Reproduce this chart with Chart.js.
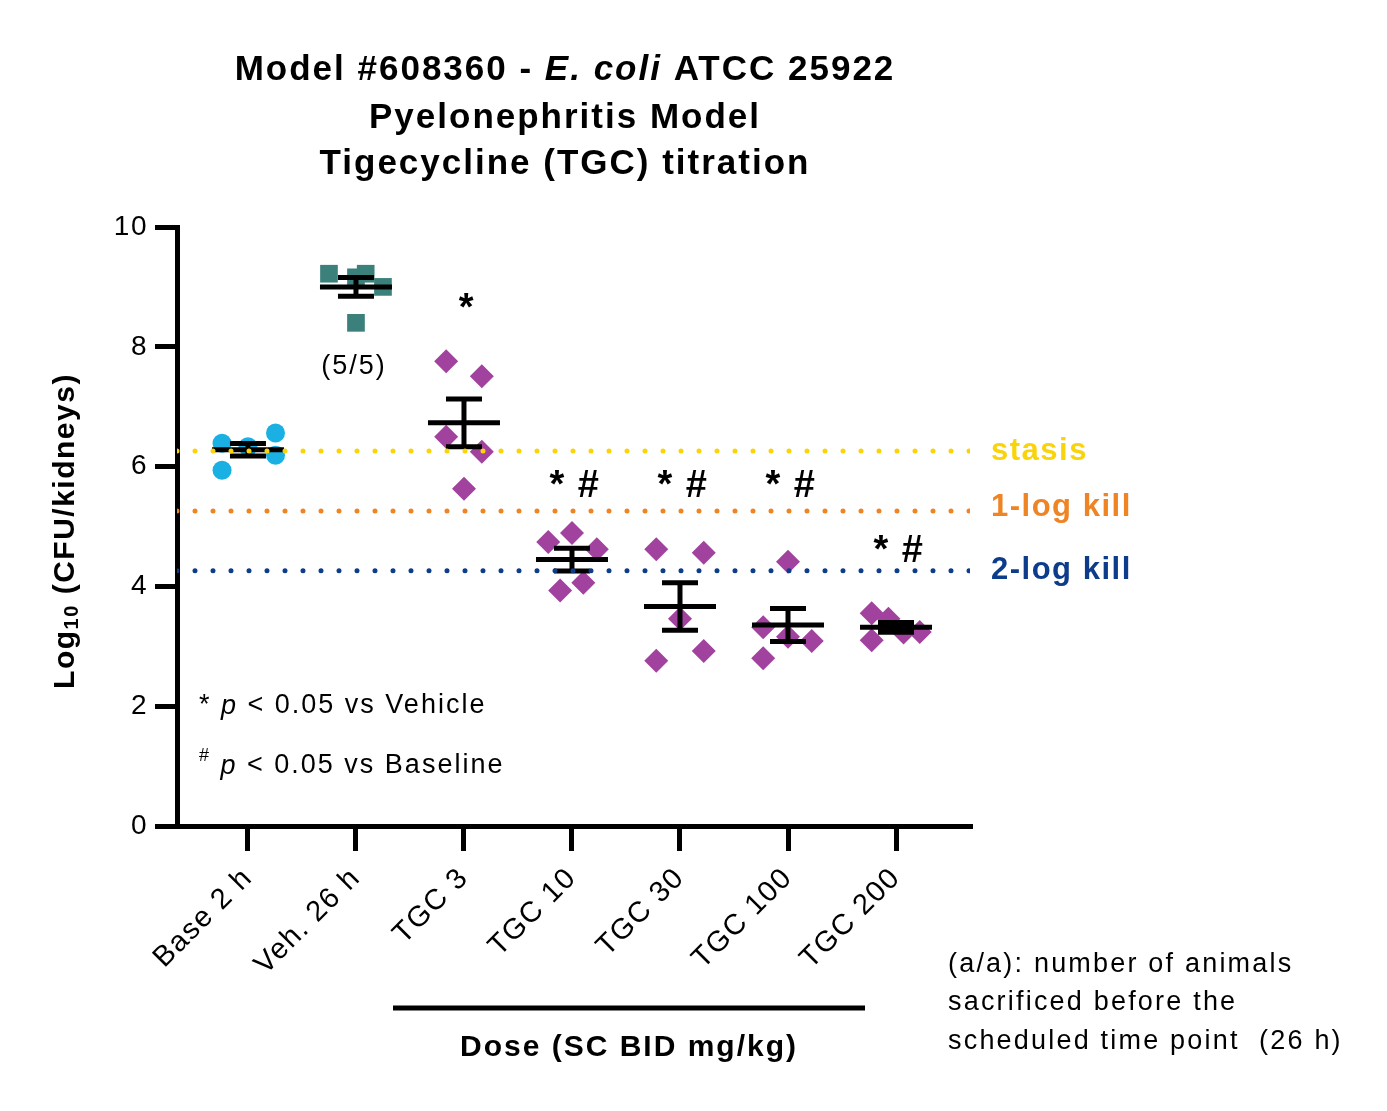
<!DOCTYPE html>
<html>
<head>
<meta charset="utf-8">
<script src="https://cdn.jsdelivr.net/npm/chart.js"></script>
<style>
  html, body { margin: 0; padding: 0; background: #fff; }
  #wrap { width: 1387px; height: 1111px; position: relative; }
</style>
</head>
<body>
<div id="wrap"><canvas id="myChart"></canvas></div>
<script>
// groups on the x axis
const groups = ['Base 2 h', 'Veh. 26 h', 'TGC 3', 'TGC 10', 'TGC 30', 'TGC 100', 'TGC 200'];

// log10 CFU/kidneys per animal
const base2h = [6.39, 5.94, 6.33, 6.56, 6.19];
const veh26h = [9.22, 9.22, 9.16, 9.00, 8.40];
const tgc3   = [7.76, 7.51, 6.50, 6.25, 5.63];
const tgc10  = [4.74, 4.89, 4.62, 3.93, 4.06];
const tgc30  = [4.62, 4.56, 3.46, 2.76, 2.92];
const tgc100 = [4.41, 3.32, 3.16, 3.09, 2.80];
const tgc200 = [3.55, 3.46, 3.10, 3.23, 3.24];

// horizontal scatter of the dots inside a group (in category units)
const jitBase = [-0.24, -0.24, 0, 0.255, 0.255];
const jitVeh  = [-0.25, 0.09, 0, 0.25, 0];
const jit3    = [-0.165, 0.165, -0.165, 0.165, 0];
const jit10   = [-0.22, 0, 0.23, -0.11, 0.105];
const jit30   = [-0.22, 0.22, 0, -0.22, 0.22];
const jit100  = [0, -0.23, 0, 0.22, -0.23];
const jit200  = [-0.225, -0.07, -0.225, 0.07, 0.22];

// reference levels
const refLevels = [6.26, 5.26, 4.26];
const refLabels = ['stasis', '1-log kill', '2-log kill'];

// significance marks above each group
const sigMarks = ['', '', '*', '* #', '* #', '* #', '* #'];

const yTicks = [0, 2, 4, 6, 8, 10];

const values = [base2h, veh26h, tgc3, tgc10, tgc30, tgc100, tgc200];
const jitters = [jitBase, jitVeh, jit3, jit10, jit30, jit100, jit200];

const CYAN = '#1AB0E4', TEAL = '#3C807C', PURPLE = '#A1439E';
const REF_COLORS = ['#FAD40A', '#EE8424', '#0C3C8A'];
const FONT = '"Liberation Sans", Arial, sans-serif';
const X_MIN = -0.657, X_MAX = 6.685;

function mean(a) { return a.reduce((s, v) => s + v, 0) / a.length; }
function sem(a) {
    const m = mean(a);
    const sd = Math.sqrt(a.reduce((s, v) => s + (v - m) * (v - m), 0) / (a.length - 1));
    return sd / Math.sqrt(a.length);
}

// draw a run of text pieces with different fonts
function drawRuns(ctx, runs, x, y, align) {
    let total = 0;
    runs.forEach(r => { ctx.font = r.font; r.w = ctx.measureText(r.t).width; total += r.w; });
    let cx = align === 'center' ? x - total / 2 : x;
    runs.forEach(r => {
        ctx.font = r.font;
        ctx.fillText(r.t, cx, y + (r.dy || 0));
        cx += r.w;
    });
}

const pointDatasets = values.map((vals, i) => ({
    type: 'scatter',
    data: vals.map((v, k) => ({ x: i + jitters[i][k], y: v })),
    backgroundColor: i === 0 ? CYAN : (i === 1 ? TEAL : PURPLE),
    borderWidth: 0,
    pointStyle: i === 0 ? 'circle' : (i === 1 ? 'rect' : 'rectRot'),
    pointRadius: i === 0 ? 9.5 : (i === 1 ? 12.5 : 12),
    pointHoverRadius: i === 0 ? 9.5 : 12,
    order: 2
}));

const refDatasets = refLevels.map((lv, i) => ({
    type: 'line',
    data: [{ x: X_MIN, y: lv }, { x: X_MAX, y: lv }],
    borderColor: REF_COLORS[i],
    borderWidth: 5,
    borderDash: [0, 18],
    borderCapStyle: 'round',
    pointRadius: 0,
    fill: false,
    order: 1
}));

// error bars (mean +/- SEM) drawn right after the dot layers, under the dotted lines
const errorBars = {
    id: 'errorBars',
    afterDatasetDraw(chart, args) {
        if (args.index !== 0) return;
        const { ctx, scales: { x, y } } = chart;
        ctx.save();
        ctx.strokeStyle = '#000';
        ctx.lineWidth = 5;
        ctx.lineCap = 'butt';
        values.forEach((vals, i) => {
            const m = mean(vals), s = sem(vals);
            const px = x.getPixelForValue(i);
            const pm = y.getPixelForValue(m), pt = y.getPixelForValue(m + s), pb = y.getPixelForValue(m - s);
            ctx.beginPath();
            ctx.moveTo(px - 36, pm); ctx.lineTo(px + 36, pm);
            ctx.moveTo(px, pt); ctx.lineTo(px, pb);
            ctx.moveTo(px - 18, pt); ctx.lineTo(px + 18, pt);
            ctx.moveTo(px - 18, pb); ctx.lineTo(px + 18, pb);
            ctx.stroke();
        });
        ctx.restore();
    }
};

// titles, notes and labels
const annotations = {
    id: 'annotations',
    beforeDraw(chart) { chart.ctx.letterSpacing = '1.5px'; },
    afterDraw(chart) {
        const { ctx, scales: { x, y } } = chart;
        ctx.save();
        ctx.fillStyle = '#000';
        ctx.textBaseline = 'middle';
        ctx.textAlign = 'left';

        // title
        ctx.letterSpacing = '2px';
        const tb = 'bold 35px ' + FONT, ti = 'italic bold 35px ' + FONT;
        drawRuns(ctx, [{ t: 'Model #608360 - ', font: tb }, { t: 'E. coli', font: ti }, { t: ' ATCC 25922', font: tb }], 565, 70, 'center');
        drawRuns(ctx, [{ t: 'Pyelonephritis Model', font: tb }], 565, 118, 'center');
        drawRuns(ctx, [{ t: 'Tigecycline (TGC) titration', font: tb }], 565, 164, 'center');

        // y axis title
        ctx.save();
        ctx.letterSpacing = '1.5px';
        ctx.translate(66, 531);
        ctx.rotate(-Math.PI / 2);
        drawRuns(ctx, [
            { t: 'Log', font: 'bold 30px ' + FONT },
            { t: '10', font: 'bold 20px ' + FONT, dy: 6 },
            { t: ' (CFU/kidneys)', font: 'bold 30px ' + FONT }
        ], 0, 0, 'center');
        ctx.restore();

        // significance legend
        ctx.letterSpacing = '2px';
        const rf = '27px ' + FONT, itf = 'italic 27px ' + FONT;
        drawRuns(ctx, [{ t: '* ', font: rf }, { t: 'p', font: itf }, { t: ' < 0.05 vs Vehicle', font: rf }], 199, 706, 'left');
        drawRuns(ctx, [{ t: '#', font: '18px ' + FONT, dy: -10 }, { t: ' ', font: rf }, { t: 'p', font: itf }, { t: ' < 0.05 vs Baseline', font: rf }], 199, 766, 'left');

        // animals sacrificed
        ctx.font = '27px ' + FONT;
        ctx.textAlign = 'center';
        ctx.fillText('(5/5)', 354, 367);
        ctx.textAlign = 'left';
        ctx.letterSpacing = '2.2px';
        ctx.fillText('(a/a): number of animals', 948, 965);
        ctx.fillText('sacrificed before the', 948, 1003);
        ctx.fillText('scheduled time point  (26 h)', 948, 1042);

        // dose bracket
        ctx.fillRect(x.getPixelForValue(1.343), 1005.5, x.getPixelForValue(5.713) - x.getPixelForValue(1.343), 5);
        ctx.letterSpacing = '2px';
        ctx.font = 'bold 30px ' + FONT;
        ctx.textAlign = 'center';
        ctx.fillText('Dose (SC BID mg/kg)', 629, 1048);

        // reference labels
        ctx.textAlign = 'left';
        ctx.letterSpacing = '1.5px';
        refLabels.forEach((lab, i) => {
            ctx.fillStyle = REF_COLORS[i];
            ctx.font = 'bold 31px ' + FONT;
            ctx.fillText(lab, 991, y.getPixelForValue(refLevels[i]) - (i === 1 ? 3 : 0));
        });

        // significance marks
        ctx.fillStyle = '#000';
        ctx.textAlign = 'center';
        ctx.textBaseline = 'alphabetic';
        ctx.font = 'bold 38px ' + FONT;
        const sigY = [0, 0, 8.45, 5.49, 5.49, 5.49, 4.41];
        sigMarks.forEach((s, i) => {
            if (!s) return;
            ctx.fillText(s, x.getPixelForValue(i) + 3, y.getPixelForValue(sigY[i]));
        });
        ctx.restore();
    }
};

new Chart(document.getElementById('myChart'), {
    data: { datasets: [...pointDatasets, ...refDatasets] },
    options: {
        responsive: true,
        maintainAspectRatio: false,
        animation: false,
        layout: { padding: { top: 227, right: 417, bottom: 0, left: 0 } },
        plugins: { legend: { display: false }, tooltip: { enabled: false } },
        scales: {
            x: {
                type: 'linear',
                min: X_MIN,
                max: X_MAX,
                afterBuildTicks: s => { s.ticks = groups.map((g, i) => ({ value: i })); },
                afterFit: s => { s.height = 285; },
                ticks: {
                    callback: v => groups[v],
                    color: '#000',
                    font: { family: FONT, size: 29 },
                    minRotation: 45,
                    maxRotation: 45,
                    padding: 10,
                    autoSkip: false
                },
                grid: { drawOnChartArea: false, color: '#000', lineWidth: 5, tickLength: 25 },
                border: { display: true, color: '#000', width: 5 }
            },
            y: {
                min: 0,
                max: 10,
                afterBuildTicks: s => { s.ticks = yTicks.map(v => ({ value: v })); },
                afterFit: s => { s.width = 177; },
                ticks: {
                    color: '#000',
                    font: { family: FONT, size: 28 },
                    padding: 7
                },
                grid: { drawOnChartArea: false, color: '#000', lineWidth: 5, tickLength: 22 },
                border: { display: true, color: '#000', width: 5 }
            }
        }
    },
    plugins: [errorBars, annotations]
});
</script>
</body>
</html>
